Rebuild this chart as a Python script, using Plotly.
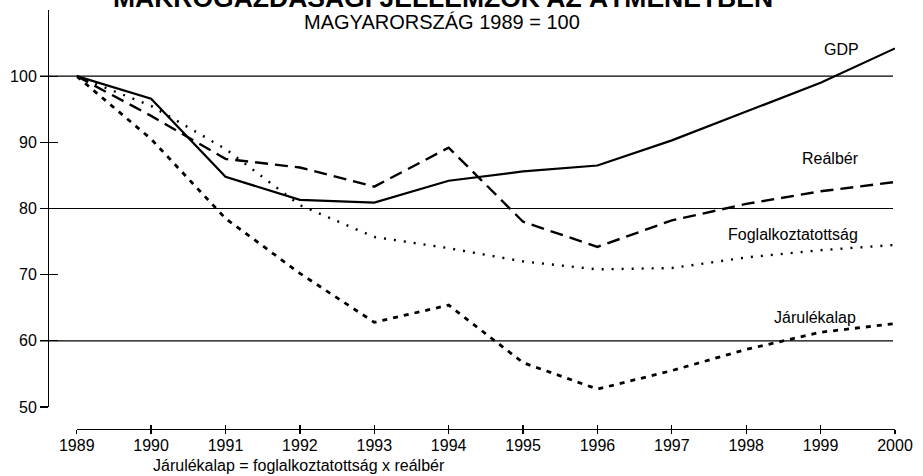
import plotly.graph_objects as go

years = list(range(1989, 2001))
gdp = [100, 96.6, 84.8, 81.3, 80.9, 84.2, 85.6, 86.5, 90.3, 94.6, 99.0, 104.2]
realber = [100, 94.0, 87.5, 86.2, 83.3, 89.2, 78.0, 74.2, 78.2, 80.7, 82.6, 84.0]
foglalk = [100, 95.5, 89.0, 80.5, 75.7, 74.0, 72.0, 70.8, 71.0, 72.6, 73.7, 74.5]
jarulek = [100, 90.5, 78.5, 70.2, 62.8, 65.4, 56.7, 52.7, 55.5, 58.7, 61.3, 62.6]
series_names = ["GDP", "Reálbér", "Foglalkoztatottság", "Járulékalap"]
ytick_vals = [50, 60, 70, 80, 90, 100]
grid_vals = [60, 80, 100]

title_text = "MAKROGAZDASÁGI JELLEMZŐK AZ ÁTMENETBEN"
subtitle_text = "MAGYARORSZÁG 1989 = 100"
footnote_text = "Járulékalap = foglalkoztatottság x reálbér"

FONT = "Liberation Sans, Arial, sans-serif"
W, H = 923, 476
ML, MR, MT, MB = 48, 20, 10, 47
PW = W - ML - MR
PH = H - MT - MB

fig = go.Figure()
styles = [
    dict(color="black", width=2.2, dash="solid"),
    dict(color="black", width=2.4, dash="13px,7px"),
    dict(color="black", width=2.4, dash="2px,8px"),
    dict(color="black", width=2.8, dash="5px,6px"),
]
for name, vals, st in zip(series_names, [gdp, realber, foglalk, jarulek], styles):
    fig.add_trace(go.Scatter(x=years, y=vals, mode="lines", name=name, line=st,
                             hoverinfo="skip"))

# invisible trace for overlay axes (crossing ticks)
fig.add_trace(go.Scatter(x=years, y=gdp, mode="lines", xaxis="x2", yaxis="y2",
                         line=dict(color="rgba(0,0,0,0)"), hoverinfo="skip", showlegend=False))

x_dom0 = 29 / PW
y_dom0 = 22 / PH
yr = [50, 110]

common_x = dict(range=[1989, 2000], domain=[x_dom0, 1], tickvals=years,
                showgrid=False, zeroline=False, anchor="free", position=0,
                tickcolor="black", tickwidth=1.3)
common_y = dict(range=yr, domain=[y_dom0, 1], tickvals=ytick_vals,
                showgrid=False, zeroline=False, anchor="free", position=0,
                tickcolor="black", tickwidth=1.3)

fig.update_layout(
    width=W, height=H,
    margin=dict(l=ML, r=MR, t=MT, b=MB),
    paper_bgcolor="white", plot_bgcolor="white",
    showlegend=False,
    font=dict(family=FONT, color="black"),
    xaxis=dict(**common_x, showline=True, linecolor="black", linewidth=1.3,
               ticks="outside", ticklen=4, ticklabelstandoff=-3,
               tickfont=dict(size=16, family=FONT, color="black")),
    yaxis=dict(**common_y, showline=True, linecolor="black", linewidth=1.3,
               ticks="outside", ticklen=8,
               tickfont=dict(size=16, family=FONT, color="black")),
    xaxis2=dict(**common_x, overlaying="x", showline=False, ticks="inside",
                ticklen=4, showticklabels=False),
    yaxis2=dict(**common_y, overlaying="y", showline=False, ticks="inside",
                ticklen=9, showticklabels=False),
)

# horizontal reference lines
for g in grid_vals:
    fig.add_shape(type="line", xref="paper", yref="y", x0=-8 / PW, x1=1 - 2 / PW,
                  y0=g, y1=g, line=dict(color="black", width=1.2), layer="below")

# series labels
label_pos = {
    "GDP": (1999.28, 104.0),
    "Reálbér": (1999.13, 87.6),
    "Foglalkoztatottság": (1998.63, 76.1),
    "Járulékalap": (1998.93, 63.6),
}
for name in series_names:
    lx, ly = label_pos[name]
    fig.add_annotation(x=lx, y=ly, xref="x", yref="y", text=name, showarrow=False,
                       font=dict(size=16, family=FONT, color="black"))

# title (partly cut at top, as in the source), subtitle, footnote
fig.add_annotation(x=(447 - ML) / PW, y=1, xref="paper", yref="paper",
                   text="<b>" + title_text + "</b>", showarrow=False,
                   xanchor="center", yanchor="bottom", yshift=-5,
                   font=dict(size=26.5, family=FONT, color="black"))
fig.add_annotation(x=(446 - ML) / PW, y=(H - MB - 22) / PH, xref="paper", yref="paper",
                   text=subtitle_text, showarrow=False, xanchor="center", yanchor="middle",
                   font=dict(size=20, family=FONT, color="black"))
fig.add_annotation(x=(152 - ML) / PW, y=(H - MB - 465) / PH, xref="paper", yref="paper",
                   text=footnote_text, showarrow=False, xanchor="left", yanchor="middle",
                   font=dict(size=16, family=FONT, color="black"))

fig.write_html("out.html", config={"displayModeBar": False, "staticPlot": True},
               post_script="document.body.style.margin='0';document.body.style.overflow='hidden';")
